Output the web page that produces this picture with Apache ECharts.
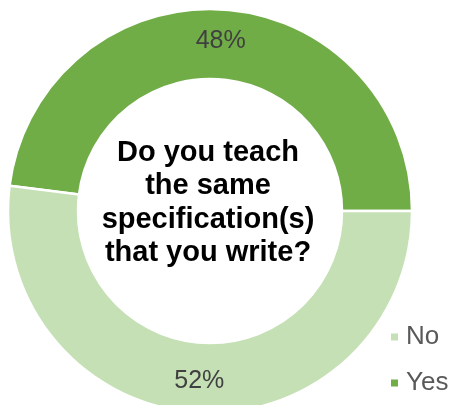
<!DOCTYPE html>
<html>
<head>
<meta charset="utf-8">
<script src="https://cdn.jsdelivr.net/npm/echarts@6/dist/echarts.min.js"></script>
<style>
  html, body { margin: 0; padding: 0; background: #ffffff; }
  #chart { width: 453px; height: 405px; }
</style>
</head>
<body>
<div id="chart"></div>
<script>
// Survey answers (percent of respondents)
const categories = ['Yes', 'No'];
const values = [48, 52];
const legendOrder = ['No', 'Yes'];
const questionLines = ['Do you teach', 'the same', 'specification(s)', 'that you write?'];

const sliceColors = { Yes: '#70AD47', No: '#C5E0B4' };

const chart = echarts.init(document.getElementById('chart'), null, { renderer: 'canvas' });

const pieData = categories.map((name, i) => ({
  name: name,
  value: values[i],
  itemStyle: { color: sliceColors[name] }
}));

chart.setOption({
  animation: false,
  backgroundColor: '#ffffff',
  legend: {
    data: legendOrder,
    orient: 'vertical',
    left: 389,
    top: 322,
    padding: 0,
    height: 83,
    icon: 'rect',
    itemWidth: 9,
    itemHeight: 9,
    itemGap: 16,
    textStyle: {
      fontFamily: 'Liberation Sans, Arial, sans-serif',
      fontSize: 26,
      lineHeight: 30,
      color: '#595959',
      padding: [0, 0, 0, 2]
    }
  },
  graphic: [{
    type: 'text',
    x: 208,
    y: 203,
    style: {
      text: questionLines.join('\n'),
      textAlign: 'center',
      textVerticalAlign: 'middle',
      fontFamily: 'Liberation Sans, Arial, sans-serif',
      fontWeight: 'bold',
      fontSize: 29,
      lineHeight: 33.5,
      fill: '#000000'
    }
  }],
  series: [{
    type: 'pie',
    center: [210, 211],
    radius: [132, 202],
    startAngle: 0,
    clockwise: false,
    avoidLabelOverlap: false,
    silent: true,
    itemStyle: { borderColor: '#ffffff', borderWidth: 2.5 },
    label: {
      show: true,
      position: 'inside',
      formatter: p => Math.round(p.percent) + '%',
      fontFamily: 'Liberation Sans, Arial, sans-serif',
      fontSize: 25,
      color: '#404040'
    },
    labelLine: { show: false },
    data: pieData
  }]
});
</script>
</body>
</html>
